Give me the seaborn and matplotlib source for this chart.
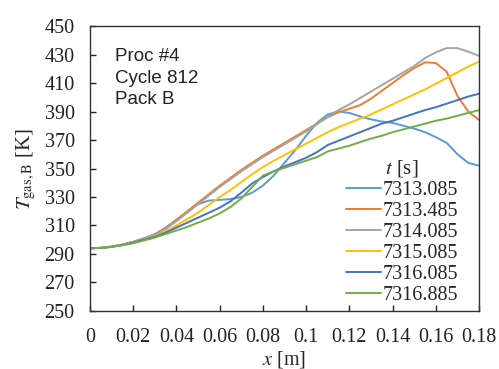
import matplotlib
matplotlib.use("Agg")
import matplotlib.pyplot as plt
import seaborn as sns
import pandas as pd

# Gas temperature along the pack at several instants
x_m = [0, .005, .01, .015, .02, .025, .03, .035, .04, .045, .05, .055, .06, .065,
       .07, .075, .08, .085, .09, .095, .10, .105, .11, .115, .12, .125, .13, .135,
       .14, .145, .15, .155, .16, .165, .17, .175, .18]

t_7313_085 = [294, 294.3, 295.2, 296.6, 298.5, 301, 304, 308.5, 314, 319.5, 325, 327.5, 328,
              328.5, 330, 333, 338, 345, 354, 363, 373, 382, 388, 390, 389, 386.5, 384.5,
              383, 382, 380, 378, 375.5, 372, 368, 360, 354, 352]
t_7313_485 = [294, 294.3, 295.2, 296.6, 298.5, 301, 303.5, 308, 314, 320, 326, 332, 338,
              343.5, 349, 354, 359, 363.5, 368, 372.5, 377, 381.5, 386, 389.5, 392, 394.5,
              399, 404.5, 410, 415.5, 420.5, 424.5, 424, 418, 401, 390, 384]
t_7314_085 = [294, 294.3, 295.2, 296.6, 298.5, 301, 303.5, 307.5, 313, 319, 325, 331, 337,
              342.5, 348, 353, 358, 362.5, 367, 371.5, 376, 381, 386.5, 391, 395, 399.5,
              404, 408.5, 413, 417.5, 422, 427.5, 431.5, 434.5, 434.5, 432, 429]
t_7315_085 = [294, 294.3, 295, 296.3, 298, 300, 302.5, 306, 310, 314.5, 319, 324.5, 330,
              335, 340.5, 346, 351, 355.5, 359.5, 363.5, 367.5, 371.5, 375.5, 379, 382,
              385, 388, 391.5, 395, 398.5, 402, 405.5, 409.5, 413.5, 417.5, 421.5, 425]
t_7316_085 = [294, 294.3, 295, 296.3, 298, 300, 302, 305, 308.5, 312, 315.5, 319, 322.5,
              327, 333, 339.5, 344, 348, 351.5, 354.5, 357.5, 361.5, 366.5, 369.5, 372.5,
              375.5, 378.5, 381.5, 383.5, 386, 388.5, 391, 393, 395.5, 398, 400.5, 402.5]
t_7316_885 = [294, 294.3, 295, 296.2, 297.5, 299.5, 301.5, 304, 306.5, 309, 312, 315, 318.5,
              323, 329, 337, 345, 348, 350.5, 353, 355.5, 358, 362, 364, 366, 368.5, 371,
              373, 375.5, 377.5, 379.5, 381.5, 383.5, 385, 387, 389, 391]

series_labels = ["7313.085", "7313.485", "7314.085", "7315.085", "7316.085", "7316.885"]
series_values = [t_7313_085, t_7313_485, t_7314_085, t_7315_085, t_7316_085, t_7316_885]
line_colors = ["#5B9BD5", "#ED7D31", "#A5A5A5", "#FFC000", "#4472C4", "#70AD47"]

y_ticks = list(range(250, 451, 20))
x_ticks = [0, 0.02, 0.04, 0.06, 0.08, 0.1, 0.12, 0.14, 0.16, 0.18]
x_tick_labels = ["0", "0.02", "0.04", "0.06", "0.08", "0.1", "0.12", "0.14", "0.16", "0.18"]

frames = []
for lab, vals in zip(series_labels, series_values):
    frames.append(pd.DataFrame({"x": x_m, "T": vals, "t": lab}))
df = pd.concat(frames, ignore_index=True)

sns.set_style("ticks")
plt.rcParams["font.family"] = ["Liberation Serif", "DejaVu Serif"]
plt.rcParams["mathtext.fontset"] = "stix"

fig = plt.figure(figsize=(4.99, 3.69), dpi=100)
ax = fig.add_axes([0.1804, 0.1572, 0.7796, 0.7723])

sns.lineplot(data=df, x="x", y="T", hue="t", hue_order=series_labels,
             palette=line_colors, linewidth=1.4, ax=ax, estimator=None, sort=False)

ax.set_xlim(0, 0.18)
ax.set_ylim(250, 450)
ax.set_xticks(x_ticks)
ax.set_xticklabels(x_tick_labels)
ax.set_yticks(y_ticks)
ax.tick_params(direction="in", length=4, width=1, labelsize=14.5, colors="#222222")
ax.tick_params(axis="y", pad=11)
ax.tick_params(axis="x", pad=12)
for sp in ax.spines.values():
    sp.set_visible(True)
    sp.set_linewidth(1.0)
    sp.set_color("#333333")

ax.set_xlabel("$x$ [m]", fontsize=14.5, labelpad=1.5)
ax.set_ylabel(r"$T_{\mathrm{gas,B}}$ [K]", fontsize=15, labelpad=5)

ax.text(0.064, 0.922, "Proc #4\nCycle 812\nPack B", transform=ax.transAxes,
        ha="left", va="top", fontsize=13.5, family="Liberation Sans",
        linespacing=1.33, color="#222222")

leg = ax.legend(title="$t$ [s]", loc="lower right", bbox_to_anchor=(0.978, -0.022),
                frameon=False, fontsize=14.5, title_fontsize=15,
                handlelength=1.75, handletextpad=0.1, labelspacing=0.1,
                borderaxespad=0.2)
leg._legend_box.align = "center"

fig.savefig("out.png", dpi=100)
